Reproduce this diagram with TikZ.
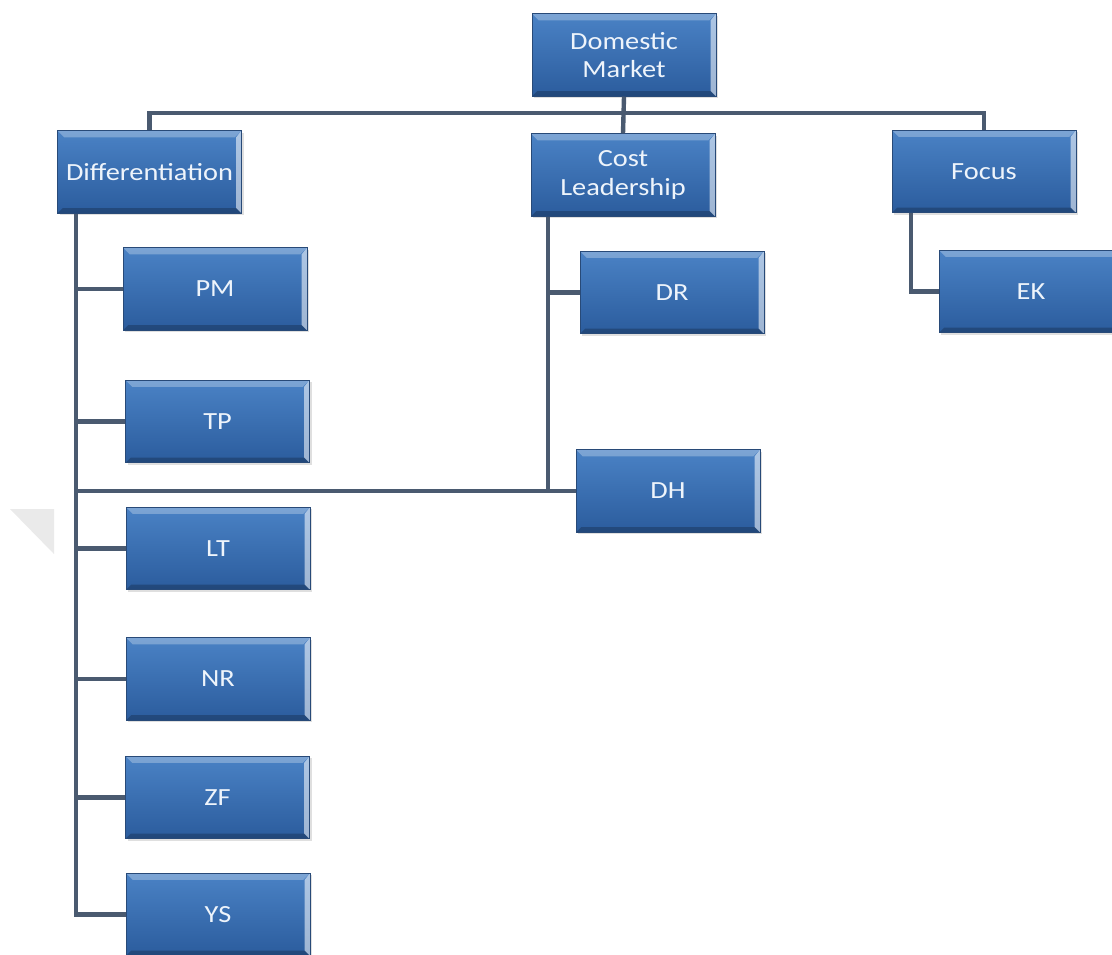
\documentclass[tikz,border=0pt]{standalone}
\usepackage{fontspec}
\setmainfont{Carlito}[FakeStretch=1.15]
\usetikzlibrary{shadows}

\definecolor{boxtop}{HTML}{4A82C5}
\definecolor{boxbot}{HTML}{2B5C9D}
\definecolor{boxedge}{HTML}{284A78}
\definecolor{linkgray}{HTML}{4A5A70}
\definecolor{boxtext}{HTML}{EEF4FB}
\definecolor{wmgray}{HTML}{EAEAEA}

\tikzset{every picture/.style={line width=0.75pt}}
\tikzset{
  box/.style={rectangle, draw=boxedge, line width=0.6pt,
    top color=boxtop, bottom color=boxbot,
    minimum width=138pt, minimum height=62pt, inner sep=1pt,
    align=center, text=boxtext, font=\fontsize{18.5}{21.5}\selectfont,
    drop shadow={opacity=0.25, shadow xshift=1.5pt, shadow yshift=-1.5pt},
    path picture={
      \fill[white, opacity=0.28] (path picture bounding box.north west) -- (path picture bounding box.north east)
        -- ([xshift=-5pt,yshift=-5pt]path picture bounding box.north east) -- ([xshift=5pt,yshift=-5pt]path picture bounding box.north west) -- cycle;
      \fill[white, opacity=0.55] (path picture bounding box.north east) -- (path picture bounding box.south east)
        -- ([xshift=-4pt,yshift=4pt]path picture bounding box.south east) -- ([xshift=-4pt,yshift=-5pt]path picture bounding box.north east) -- cycle;
      \fill[black, opacity=0.22] (path picture bounding box.south west) -- (path picture bounding box.south east)
        -- ([xshift=-4pt,yshift=4pt]path picture bounding box.south east) -- ([xshift=4pt,yshift=4pt]path picture bounding box.south west) -- cycle;
    }},
  link/.style={draw=linkgray, line width=3.3pt}
}

\begin{document}
\begin{tikzpicture}[x=0.75pt,y=0.75pt,yscale=-1,xscale=1]
\useasboundingbox (0,0) rectangle (1112,954);
\clip (0,0) rectangle (1112,954);

% watermark corner
\fill[wmgray] (10,509) -- (54,509) -- (54,554) -- cycle;

% Text Node
\node[box] (dom) at (624,55) {Domestic\\Market};
% Text Node
\node[box] (diff) at (149.5,172) {Differentiation};
% Text Node
\node[box] (cost) at (623,175) {Cost\\Leadership};
% Text Node
\node[box] (focus) at (984,171.5) {Focus};

% Text Node
\node[box] (pm) at (215,289) {PM};
% Text Node
\node[box] (tp) at (217.5,421.5) {TP};
% Text Node
\node[box] (lt) at (218,548.5) {LT};
% Text Node
\node[box] (nr) at (218,679) {NR};
% Text Node
\node[box] (zf) at (217.5,797.5) {ZF};
% Text Node
\node[box] (ys) at (218,914.5) {YS};

% Text Node
\node[box] (dr) at (672,292.5) {DR};
% Text Node
\node[box] (dh) at (668,491) {DH};
% Text Node
\node[box] (ek) at (1031,291.5) {EK};

\coordinate (bus) at (0,113);
\coordinate (dtrunk) at (76,0);
\coordinate (ctrunk) at (548,0);
\coordinate (ftrunk) at (911,0);

% Connection
\draw[link] (dom.south) -- (cost.north);
% Connection
\draw[link, line join=miter] (diff.north) -- (diff.north |- bus) -- (focus.north |- bus) -- (focus.north);
% Connection
\draw[link, line join=miter] (diff.south -| dtrunk) -- (ys.west -| dtrunk) -- (ys.west);
\foreach \n in {pm,tp,lt,nr,zf}
  \draw[link] (\n.west -| dtrunk) -- (\n.west);
% Connection
\draw[link] (dh.west -| dtrunk) -- (dh.west);
% Connection
\draw[link] (cost.south -| ctrunk) -- (dh.west -| ctrunk);
\draw[link] (dr.west -| ctrunk) -- (dr.west);
% Connection
\draw[link, line join=miter] (focus.south -| ftrunk) |- (ek.west);

\end{tikzpicture}
\end{document}
